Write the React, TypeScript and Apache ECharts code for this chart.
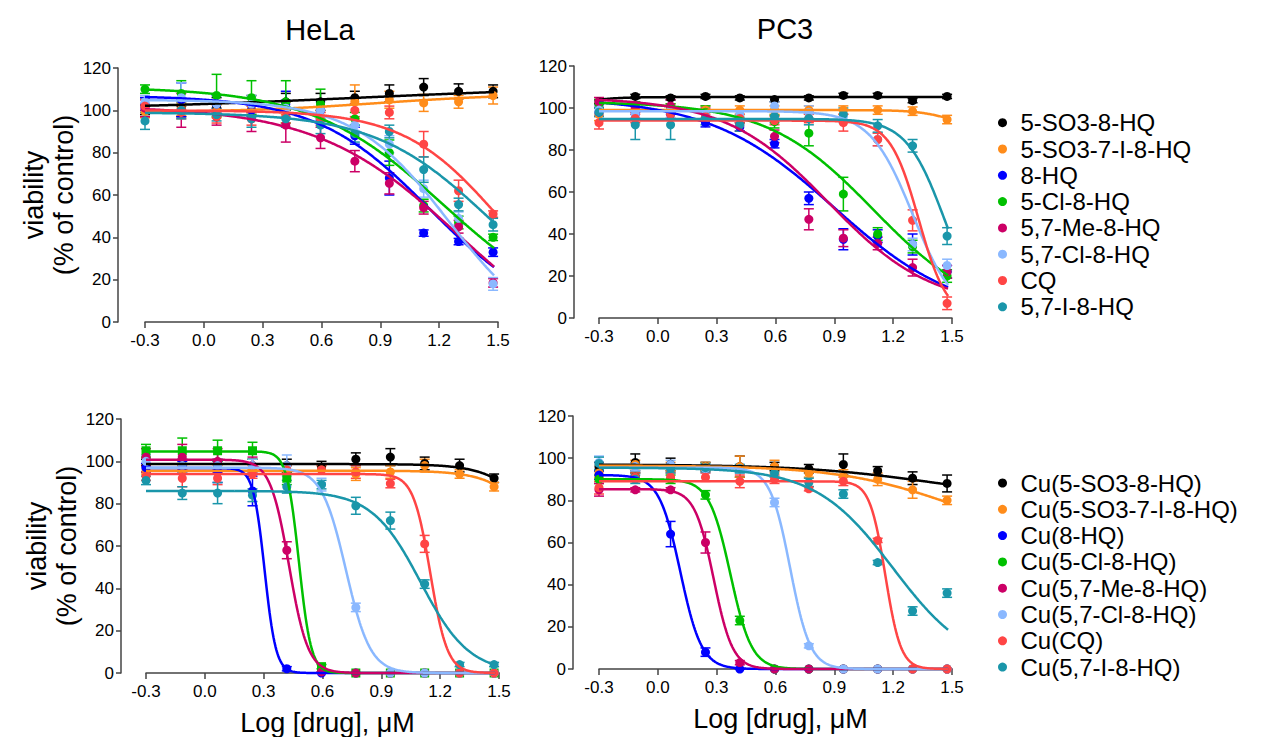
import React, { useEffect, useRef } from "react";
import * as echarts from "echarts";

// ---------- data ----------
const LOG_DOSE = [-0.3, -0.115, 0.065, 0.243, 0.418, 0.595, 0.77, 0.946, 1.121, 1.299, 1.475];
const X_TICKS_MIN = -0.3;
const X_TICKS_MAX = 1.5;
const CELL_LINES = ["HeLa", "PC3"];
const X_TITLE = "Log [drug], μM";
const Y_TITLE = "viability\n(% of control)";

const LIGANDS = ["5-SO3-8-HQ", "5-SO3-7-I-8-HQ", "8-HQ", "5-Cl-8-HQ", "5,7-Me-8-HQ", "5,7-Cl-8-HQ", "CQ", "5,7-I-8-HQ"];
const COMPLEXES = ["Cu(5-SO3-8-HQ)", "Cu(5-SO3-7-I-8-HQ)", "Cu(8-HQ)", "Cu(5-Cl-8-HQ)", "Cu(5,7-Me-8-HQ)", "Cu(5,7-Cl-8-HQ)", "Cu(CQ)", "Cu(5,7-I-8-HQ)"];

// mean viability per compound (rows follow the legend order)
const HELA_LIGAND_MEAN = [
  [102, 101, 102, 103, 104, 104, 106, 108, 111, 109, 109],
  [99.5, 100.5, 99.5, 101, 101, 102, 104, 105, 103.5, 104, 107],
  [103, 105, 103, 100, 103, 100, 88, 68, 42, 38, 33],
  [110, 108, 107, 106, 104, 103, 96, 80, 55, 47, 40],
  [101, 100, 97, 96, 93, 87, 76, 65.5, 54, 45, 18.5],
  [104, 106, 103, 103, 101, 100, 93, 84, 63, 49, 18],
  [102, 99, 97, 96, 97, 96, 100, 99, 84, 62, 51],
  [95, 100, 98, 96, 96, 93, 89, 90, 72, 55.5, 46],
];
const HELA_LIGAND_SEM = [
  [4, 4, 4, 4, 4, 4, 3, 4, 4, 3.5, 3],
  [3, 3, 3, 3, 3, 3, 8, 4, 4, 3, 4],
  [3, 8, 4, 3, 6, 5, 4, 8, 1.5, 1.5, 2],
  [2, 6, 10, 8, 10, 7, 3, 6, 3, 3, 1.5],
  [4, 8, 4, 6, 8, 5, 5, 5, 3, 3, 2],
  [3, 7, 4, 4, 4, 4, 4, 4, 4, 3, 3],
  [3, 3, 3, 3, 3, 3, 3, 3, 6, 5, 1.5],
  [4, 4, 3, 4, 4, 4, 4, 3, 6, 3, 3],
];
// fitted 4-parameter logistic: [top, bottom, logIC50, hill]
const HELA_LIGAND_FIT = [
  [100, 112, 0.8, 0.6],
  [99, 108, 0.9, 1.2],
  [107, 0, 1.15, 1.5],
  [111, 0, 1.22, 1.3],
  [102, -20, 1.3, 1.2],
  [105, -10, 1.25, 1.8],
  [100, 0, 1.5, 1.8],
  [99, 0, 1.45, 1.5],
];

const PC3_LIGAND_MEAN = [
  [103, 105.5, 104.8, 105.5, 104.8, 104, 104.8, 106, 106, 103.5, 105.5],
  [97, 100, 100, 99, 99, 99, 99, 99, 99, 98.5, 94.5],
  [98, 97, 97, 93, 91, 83, 57, 37.5, 39, 35, 22],
  [102, 101, 100, 98, 96, 93.5, 88, 59, 40, 34, 20],
  [103, 100, 101, 97, 92, 86.5, 47, 38, 35.5, 24, 22],
  [99, 97, 99, 97, 97, 101, 98, 96, 85, 35, 25],
  [93, 95, 97, 96, 95, 94, 95, 93, 85, 46.5, 7],
  [98, 92, 92, 95, 92, 96, 95, 97, 91.5, 82, 39],
];
const PC3_LIGAND_SEM = [
  [1, 1, 1, 1, 1, 1, 1, 1, 1, 1, 1],
  [3, 2, 2, 2, 2, 2, 2, 2, 2, 2, 2],
  [2, 2, 2, 2, 2, 2, 3, 5, 3, 5, 3],
  [2, 2, 2, 3, 3, 3, 6, 8, 3, 3, 3],
  [2, 2, 3, 3, 3, 3, 5, 4, 3, 4, 3],
  [2, 2, 2, 2, 2, 2, 3, 3, 3, 3, 3],
  [3, 2, 2, 2, 2, 2, 2, 4, 3, 5, 3],
  [2, 7, 7, 3, 3, 3, 3, 3, 3, 3, 4],
];
const PC3_LIGAND_FIT = [
  [100, 105.2, -0.4, 5],
  [99, 90, 1.5, 5],
  [105, 0, 0.9, 1.36],
  [103, 0, 1.1, 1.6],
  [105, 5, 0.87, 1.65],
  [98.5, 0, 1.3, 4],
  [94, 0, 1.33, 6],
  [94.8, 0, 1.46, 4.5],
];

const HELA_CU_MEAN = [
  [98, 98, 98, 98, 98, 97, 101, 102, 99, 98, 92],
  [96, 96, 96, 96, 96, 96, 94, 95, 98, 94, 88],
  [97, 97, 95, 86, 2, 0, 0, 0, 0, 0, 0],
  [105, 105, 105, 105, 92, 3, 0, 0, 0, 0, 0],
  [102, 102, 100, 98, 58, 0.5, 0, 0, 0, 0, 0],
  [100, 98, 98, 98, 98, 89, 31, 0, 0, 0, 0],
  [93, 92, 92, 94, 96, 96, 95, 89.5, 61, 0, 0],
  [91, 85, 85, 84, 88, 89, 79, 72, 42, 4, 4],
];
const HELA_CU_SEM = [
  [3, 3, 3, 3, 3, 3, 3, 4, 3, 3, 2],
  [2, 2, 2, 2, 2, 2, 3, 3, 3, 2, 2],
  [2, 3, 5, 7, 1, 0, 0, 0, 0, 0, 0],
  [3, 6, 5, 4, 3, 1, 0, 0, 0, 0, 0],
  [4, 6, 6, 4, 4, 0, 0, 0, 0, 0, 0],
  [3, 3, 3, 3, 5, 3, 2, 0, 0, 0, 0],
  [2, 4, 3, 2, 2, 2, 3, 2, 4, 0, 0],
  [2, 3, 5, 3, 3, 2, 4, 4, 2, 1, 1],
];
const HELA_CU_FIT = [
  [98.7, 0, 1.8, 3.5],
  [95.6, 0, 1.8, 3.5],
  [96.8, 0, 0.305, 15],
  [104.7, 0, 0.48, 14],
  [100.8, 0, 0.43, 9],
  [97, 0, 0.72, 7],
  [94, 0, 1.15, 10],
  [86, 0, 1.1, 3.5],
];

const PC3_CU_MEAN = [
  [96, 98, 97, 96, 96, 96, 95, 97, 94, 90.5, 88],
  [93, 97, 96, 96, 96, 96, 93, 91.5, 90, 85, 80],
  [92, 91, 64, 8, 0, 0, 0, 0, 0, 0, 0],
  [90, 91, 90, 82.6, 23, 0, 0, 0, 0, 0, 0],
  [85, 85, 85, 60, 3, 0, 0, 0, 0, 0, 0],
  [98, 96, 97, 95, 95, 79, 11, 0, 0, 0, 0],
  [86, 91, 91, 91, 89, 90, 85.5, 89, 61, 0, 0],
  [97.5, 90, 95, 95.5, 95, 93, 88.5, 83, 50.5, 27.5, 36],
];
const PC3_CU_SEM = [
  [2, 4, 3, 2, 5, 2, 2, 5, 2, 3, 4],
  [2, 2, 2, 2, 5, 3, 2, 3, 3, 4, 2],
  [2, 2, 6, 2, 0, 0, 0, 0, 0, 0, 0],
  [2, 2, 2, 2, 2, 0, 0, 0, 0, 0, 0],
  [3, 1, 1, 5, 1, 0, 0, 0, 0, 0, 0],
  [3, 2, 2, 2, 2, 2, 1, 0, 0, 0, 0],
  [3, 2, 2, 2, 3, 2, 1, 2, 1, 0, 0],
  [3, 2, 2, 2, 2, 2, 2, 2, 1, 2, 2],
];
const PC3_CU_FIT = [
  [97, 80, 1.4, 1.3],
  [96.5, 60, 1.5, 1.5],
  [92, 0, 0.115, 8],
  [90, 0, 0.37, 8],
  [85.3, 0, 0.285, 9],
  [95.5, 0, 0.675, 8.5],
  [89, 0, 1.16, 11],
  [95.5, 0, 1.2, 2.2],
];

// ---------- styles / layout ----------
const COLORS = ["#000000", "#FF8C1A", "#0000FF", "#00C000", "#CC0066", "#8AB8FF", "#FF4545", "#1A96AA"];
const FONT = "'Liberation Sans', Arial, Helvetica, sans-serif";
const AXIS_COLOR = "#444";

const PANELS = [
  { names: LIGANDS, mean: HELA_LIGAND_MEAN, sem: HELA_LIGAND_SEM, fit: HELA_LIGAND_FIT, grid: { left: 145, top: 68, width: 353, height: 254 }, yOffset: 27, yTitle: true, xTitle: false, squareIdx: -1 },
  { names: LIGANDS, mean: PC3_LIGAND_MEAN, sem: PC3_LIGAND_SEM, fit: PC3_LIGAND_FIT, grid: { left: 599, top: 66, width: 353, height: 252 }, yOffset: 25, yTitle: false, xTitle: false, squareIdx: -1 },
  { names: COMPLEXES, mean: HELA_CU_MEAN, sem: HELA_CU_SEM, fit: HELA_CU_FIT, grid: { left: 146, top: 419, width: 353, height: 254 }, yOffset: 25, yTitle: true, xTitle: true, squareIdx: 3 },
  { names: COMPLEXES, mean: PC3_CU_MEAN, sem: PC3_CU_SEM, fit: PC3_CU_FIT, grid: { left: 599, top: 416, width: 353, height: 253 }, yOffset: 26, yTitle: false, xTitle: true, squareIdx: -1 },
];

const fourPL = (x: number, p: number[]) => p[1] + (p[0] - p[1]) / (1 + Math.pow(10, (x - p[2]) * p[3]));

function buildOption() {
  const curveX: number[] = [];
  for (let i = 0; i <= 356; i++) curveX.push(-0.3 + i * 0.005);

  const grids: any[] = [];
  const xAxes: any[] = [];
  const yAxes: any[] = [];
  const series: any[] = [];

  PANELS.forEach((p, pi) => {
    grids.push({ ...p.grid, containLabel: false });
    xAxes.push({
      type: "value",
      gridIndex: pi,
      min: X_TICKS_MIN,
      max: X_TICKS_MAX,
      interval: 0.3,
      axisLine: { show: true, onZero: false, lineStyle: { color: AXIS_COLOR, width: 1.5 } },
      axisTick: { show: true, length: 6, lineStyle: { color: AXIS_COLOR, width: 1.5 } },
      axisLabel: {
        fontSize: 17,
        color: "#000",
        fontFamily: FONT,
        margin: 10,
        formatter: (v: number) => {
          const s = (Math.round(v * 10) / 10).toFixed(1);
          return s === "-0.0" ? "0.0" : s;
        },
      },
      splitLine: { show: false },
      name: p.xTitle ? X_TITLE : "",
      nameLocation: "middle",
      nameGap: 36,
      nameTextStyle: { fontSize: 27, color: "#000", fontFamily: FONT, padding: [0, 0, 0, 10] },
    });
    yAxes.push({
      type: "value",
      gridIndex: pi,
      min: 0,
      max: 120,
      interval: 20,
      offset: p.yOffset,
      axisLine: { show: true, onZero: false, lineStyle: { color: AXIS_COLOR, width: 1.5 } },
      axisTick: { show: true, length: 5, lineStyle: { color: AXIS_COLOR, width: 1.5 } },
      axisLabel: { fontSize: 17, color: "#000", fontFamily: FONT, margin: 7 },
      splitLine: { show: false },
      name: p.yTitle ? Y_TITLE : "",
      nameLocation: "middle",
      nameGap: 25,
      nameTextStyle: { fontSize: 27, lineHeight: 30, color: "#000", fontFamily: FONT, align: "center" },
    });

    p.names.forEach((name, si) => {
      const color = COLORS[si];
      series.push({
        type: "line",
        name,
        xAxisIndex: pi,
        yAxisIndex: pi,
        data: curveX.map((x) => [x, fourPL(x, p.fit[si])]),
        showSymbol: false,
        symbol: "none",
        lineStyle: { color, width: 2.5 },
        itemStyle: { color },
        silent: true,
        clip: false,
      });
      series.push({
        type: "custom",
        name,
        xAxisIndex: pi,
        yAxisIndex: pi,
        data: LOG_DOSE.map((x, i) => [x, p.mean[si][i] - p.sem[si][i], p.mean[si][i] + p.sem[si][i]]),
        encode: { x: 0, y: [1, 2] },
        itemStyle: { color },
        silent: true,
        clip: false,
        renderItem: (_params: any, api: any) => {
          const x = api.value(0);
          const lo = api.coord([x, api.value(1)]);
          const hi = api.coord([x, api.value(2)]);
          const w = 5;
          const st = { stroke: color, lineWidth: 1.5, fill: "none" };
          return {
            type: "group",
            children: [
              { type: "line", shape: { x1: hi[0], y1: hi[1], x2: lo[0], y2: lo[1] }, style: st },
              { type: "line", shape: { x1: hi[0] - w, y1: hi[1], x2: hi[0] + w, y2: hi[1] }, style: st },
              { type: "line", shape: { x1: lo[0] - w, y1: lo[1], x2: lo[0] + w, y2: lo[1] }, style: st },
            ],
          };
        },
      });
      series.push({
        type: "scatter",
        name,
        xAxisIndex: pi,
        yAxisIndex: pi,
        data: LOG_DOSE.map((x, i) => [x, p.mean[si][i]]),
        symbol: si === p.squareIdx ? "rect" : "circle",
        symbolSize: 9,
        itemStyle: { color, opacity: 1 },
        clip: false,
      });
    });
  });

  const legendBase = {
    orient: "vertical",
    left: 998,
    icon: "circle",
    itemWidth: 26,
    itemHeight: 9,
    itemGap: 2.3,
    padding: 0,
    selectedMode: false,
    textStyle: { fontSize: 24, lineHeight: 24, color: "#000", fontFamily: FONT },
  };

  return {
    animation: false,
    backgroundColor: "#ffffff",
    grid: grids,
    xAxis: xAxes,
    yAxis: yAxes,
    legend: [
      { ...legendBase, data: LIGANDS, top: 110.7 },
      { ...legendBase, data: COMPLEXES, top: 471 },
    ],
    graphic: [
      { type: "text", x: 320, y: 30, style: { text: CELL_LINES[0], font: `29px ${FONT}`, fill: "#000", textAlign: "center", textVerticalAlign: "middle" } },
      { type: "text", x: 785, y: 29, style: { text: CELL_LINES[1], font: `29px ${FONT}`, fill: "#000", textAlign: "center", textVerticalAlign: "middle" } },
    ],
    series,
  };
}

export default function App() {
  const ref = useRef<HTMLDivElement>(null);
  useEffect(() => {
    if (!ref.current) return;
    const chart = echarts.init(ref.current, undefined, { renderer: "svg" });
    chart.setOption(buildOption() as any);
    return () => chart.dispose();
  }, []);
  return <div ref={ref} style={{ position: "fixed", left: 0, top: 0, width: 1284, height: 737, background: "#fff" }} />;
}
